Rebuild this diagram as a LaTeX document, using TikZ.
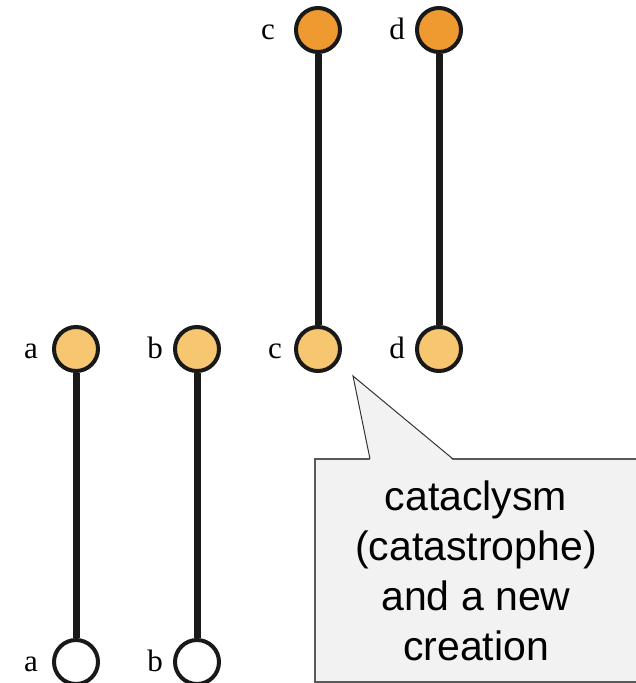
\documentclass[tikz,border=0pt]{standalone}
\usepackage{fontspec}
\setmainfont{Liberation Serif}
\newfontfamily\notefont{Liberation Sans}
\usetikzlibrary{positioning}

\definecolor{topfill}{HTML}{EE9A30}
\definecolor{lowfill}{HTML}{F6C670}
\definecolor{notefill}{HTML}{F2F2F2}

\begin{document}
\begin{tikzpicture}[
  x=1pt, y=-1pt,
  dot/.style={circle, draw=black!90, line width=4pt, minimum size=44pt, inner sep=0pt},
  stem/.style={line width=7pt, black!90},
  tag/.style={font=\fontsize{31}{31}\selectfont, inner sep=0pt, text height=19pt, text depth=0pt},
  callout/.style={draw=black!65, line width=1.1pt, fill=notefill, align=center,
    font=\notefont\fontsize{41}{50}\selectfont},
]
\useasboundingbox (0,0) rectangle (635,683);

% top row
\node[dot, fill=topfill, label={[tag, label distance=19pt]left:c}] (ctop) at (318,30) {};
\node[dot, fill=topfill, label={[tag, label distance=10pt]left:d}] (dtop) at (439,30) {};
% middle row
\node[dot, fill=lowfill, label={[tag, label distance=14pt]left:a}] (amid) at (76,349) {};
\node[dot, fill=lowfill, label={[tag, label distance=10pt]left:b}] (bmid) at (197,349) {};
\node[dot, fill=lowfill, label={[tag, label distance=12pt]left:c}] (cmid) at (318,349) {};
\node[dot, fill=lowfill, label={[tag, label distance=10pt]left:d}] (dmid) at (439,349) {};
% bottom row
\node[dot, fill=white, label={[tag, label distance=14pt]left:a}] (abot) at (76,662) {};
\node[dot, fill=white, label={[tag, label distance=10pt]left:b}] (bbot) at (197,662) {};

\draw[stem] (ctop) -- (cmid);
\draw[stem] (dtop) -- (dmid);
\draw[stem] (amid) -- (abot);
\draw[stem] (bmid) -- (bbot);

% speech bubble
\node[callout, minimum width=322pt, minimum height=223pt] (note) at (476,570.5)
  {cataclysm\\(catastrophe)\\and a new\\creation};
\coordinate (tip) at (353,376);
\coordinate (pl) at (370,459);
\coordinate (pr) at (453,459);
\fill[notefill] ([yshift=-1.2pt]pl) -- (tip) -- ([yshift=-1.2pt]pr) -- cycle;
\draw[black!80, line width=1pt, line join=miter] (pl) -- (tip) -- (pr);
\end{tikzpicture}
\end{document}
